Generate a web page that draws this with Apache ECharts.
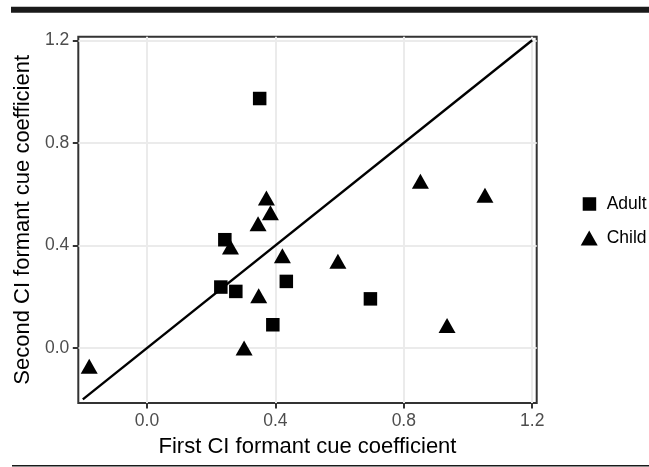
<!DOCTYPE html>
<html><head><meta charset="utf-8">
<script src="https://cdn.jsdelivr.net/npm/echarts@6/dist/echarts.min.js"></script>
<style>html,body{margin:0;padding:0;background:#fff}#c{width:649px;height:467px}</style>
</head><body><div id="c"></div>
<script>
// ---- data ----
const xTicks = [0, 0.4, 0.8, 1.2];
const yTicks = [0, 0.4, 0.8, 1.2];
const adultX = [0.351, 0.2425, 0.434, 0.230, 0.2767, 0.696, 0.392];
const adultY = [0.973, 0.4226, 0.260, 0.238, 0.221, 0.192, 0.091];
const childX = [0.372, 0.3845, 0.346, 0.260, 0.4218, 0.5947, 0.348, 0.3025, 0.8517, 1.0528, 0.9347, -0.18];
const childY = [0.575, 0.518, 0.475, 0.384, 0.350, 0.329, 0.194, -0.009, 0.641, 0.586, 0.078, -0.08];
const refLineX = [-0.2, 1.2];
const refLineY = [-0.2, 1.2];
const axisMin = -0.214, axisMax = 1.214;
const xTitle = 'First CI formant cue coefficient';
const yTitle = 'Second CI formant cue coefficient';

const FONT = "'Liberation Sans', Arial, Helvetica, sans-serif";
const zip = (a, b) => a.map((v, i) => [v, b[i]]);

const chart = echarts.init(document.getElementById('c'), null, {renderer: 'canvas'});

function axisCommon(ticks) {
  return {
    type: 'value', min: axisMin, max: axisMax,
    axisLine: {show: false, onZero: false},
    axisTick: {show: true, inside: false, length: 5.5, customValues: ticks, lineStyle: {color: '#333333', width: 2}},
    axisLabel: {show: true, customValues: ticks, margin: 9, fontFamily: FONT, fontSize: 17.5, color: '#4D4D4D',
      formatter: v => Number(v).toFixed(1)},
    splitLine: {show: true, lineStyle: {color: '#EBEBEB', width: 2}},
    nameLocation: 'middle',
    nameTextStyle: {fontFamily: FONT, fontSize: 22, color: '#000'}
  };
}

const option = {
  animation: false,
  backgroundColor: '#fff',
  grid: {left: 78.3, top: 36.7, width: 458.4, height: 366.3, show: true, borderColor: '#333333', borderWidth: 2, backgroundColor: 'transparent'},
  xAxis: Object.assign(axisCommon(xTicks), {name: xTitle, nameGap: 33}),
  yAxis: Object.assign(axisCommon(yTicks), {name: yTitle, nameGap: 37, nameRotate: 90}),
  legend: [
    {data: ['Adult'], orient: 'vertical', left: 582.7, top: 195, padding: 0, itemWidth: 13.5, itemHeight: 13.5,
     textStyle: {fontFamily: FONT, fontSize: 17.5, color: '#000', padding: [0, 0, 0, 5.5]}},
    {data: ['Child'], orient: 'vertical', left: 580.7, top: 229, padding: 0, itemWidth: 17, itemHeight: 15,
     textStyle: {fontFamily: FONT, fontSize: 17.5, color: '#000', padding: [0, 0, 0, 4]}}
  ],
  graphic: [
    {type: 'rect', shape: {x: 11, y: 6.7, width: 638, height: 6}, style: {fill: '#1a1a1a'}},
    {type: 'rect', shape: {x: 12, y: 465, width: 637, height: 1.4}, style: {fill: '#1a1a1a'}}
  ],
  series: [
    {type: 'line', name: 'ref', data: zip(refLineX, refLineY), symbol: 'none', silent: true,
     lineStyle: {color: '#000', width: 2.4}, z: 1},
    {type: 'scatter', name: 'Adult', symbol: 'rect', symbolSize: 13.5, data: zip(adultX, adultY),
     itemStyle: {color: '#000', opacity: 1}, z: 3},
    {type: 'scatter', name: 'Child', symbol: 'triangle', symbolSize: [17, 15], symbolOffset: [0, -2.5], data: zip(childX, childY),
     itemStyle: {color: '#000', opacity: 1}, z: 3}
  ]
};
chart.setOption(option);
</script>
</body></html>
